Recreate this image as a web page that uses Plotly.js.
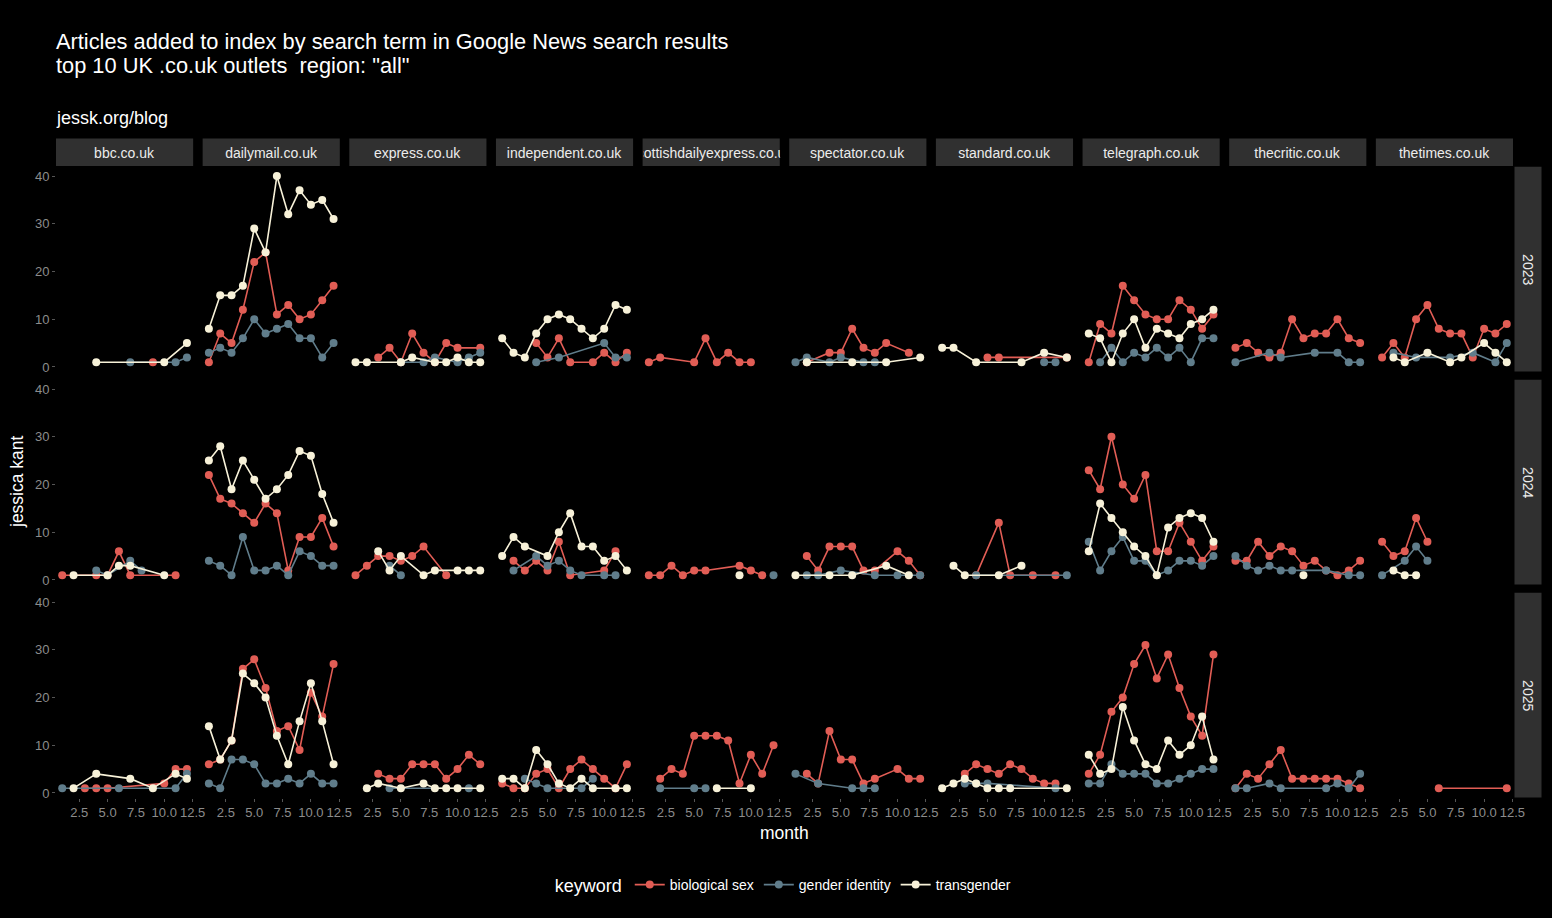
<!DOCTYPE html>
<html><head><meta charset="utf-8">
<script src="https://cdn.plot.ly/plotly-3.0.1.min.js"></script>
<style>html,body{margin:0;padding:0;background:#000;}#chart{width:1552px;height:918px;}</style>
</head><body><div id="chart"></div>
<script>
const months=[1,2,3,4,5,6,7,8,9,10,11,12];
const outlets=["bbc.co.uk","dailymail.co.uk","express.co.uk","independent.co.uk","scottishdailyexpress.co.uk","spectator.co.uk","standard.co.uk","telegraph.co.uk","thecritic.co.uk","thetimes.co.uk"];
const years=["2023","2024","2025"];
const keywords=["biological sex","gender identity","transgender"];
const xTickVals=[2.5,5,7.5,10,12.5];
const xTickText=["2.5","5.0","7.5","10.0","12.5"];
const yTickVals=[0,10,20,30,40];
const yTickText=["0","10","20","30","40"];
const n=null;

// rows: 2023, 2024, 2025 ; columns: months 1..12
const bbc_bio=[[n,n,n,n,n,n,n,n,1,n,n,n],[1,n,n,1,1,6,1,n,n,n,1,n],[n,n,1,1,1,n,n,n,n,2,5,5]];
const bbc_gen=[[n,n,n,n,n,n,1,n,n,n,1,2],[n,n,n,2,1,n,4,2,n,n,n,n],[1,n,n,n,n,1,n,n,n,n,1,4]];
const bbc_trans=[[n,n,n,1,n,n,n,n,n,1,n,5],[n,1,n,n,1,3,3,n,n,1,n,n],[n,1,n,4,n,n,3,n,1,n,4,3]];

const dailymail_bio=[[1,7,5,12,22,24,11,13,10,11,14,17],[22,17,16,14,12,16,14,2,9,9,13,7],[6,7,11,26,28,22,13,14,9,21,16,27]];
const dailymail_gen=[[3,4,3,6,10,7,8,9,6,6,2,5],[4,3,1,9,2,2,3,1,6,5,3,3],[2,1,7,7,6,2,2,3,2,4,2,2]];
const dailymail_trans=[[8,15,15,17,29,24,40,32,37,34,35,31],[25,28,19,25,21,17,19,22,27,26,18,12],[14,7,11,25,23,20,12,6,15,23,15,6]];

const express_bio=[[n,n,2,4,1,7,3,1,5,4,n,4],[1,3,5,5,4,5,7,n,1,n,n,n],[n,n,4,3,3,6,6,6,3,5,8,6]];
const express_gen=[[n,n,n,n,1,n,1,2,n,1,2,3],[n,n,n,3,1,n,n,n,n,n,n,n],[n,n,n,1,n,n,n,n,n,n,1,n]];
const express_trans=[[1,1,n,n,1,2,n,1,1,2,1,1],[n,n,6,2,5,n,1,2,n,2,2,2],[n,1,2,n,1,n,2,1,1,1,n,1]];

const independent_bio=[[n,n,n,5,2,6,1,n,1,3,1,3],[n,4,2,4,2,8,1,n,n,2,6,n],[2,1,1,4,5,1,5,7,5,3,1,6]];
const independent_gen=[[n,n,n,1,n,2,n,n,n,5,2,2],[n,2,n,5,3,4,2,1,n,1,1,n],[n,n,3,2,1,n,n,1,3,n,n,n]];
const independent_trans=[[6,3,2,7,10,11,10,8,6,8,13,12],[5,9,7,n,5,10,14,7,7,4,5,2],[3,3,1,9,6,2,1,3,1,n,1,1]];

const scottish_bio=[[1,2,n,n,1,6,1,3,1,1,n,n],[1,1,3,1,2,2,n,n,3,2,1,n],[n,3,5,4,12,12,12,11,2,8,4,10]];
const scottish_gen=[[n,n,n,n,n,n,n,n,n,n,n,n],[n,n,n,n,n,n,n,n,n,n,n,1],[n,1,n,n,1,1,n,n,n,n,n,n]];
const scottish_trans=[[n,n,n,n,n,n,n,n,n,n,n,n],[n,n,n,n,n,n,n,n,1,n,n,n],[n,n,n,n,n,n,1,n,n,1,n,n]];

const spectator_bio=[[n,1,n,3,3,8,4,3,5,n,3,n],[n,5,2,7,7,7,2,2,n,6,4,1],[n,4,2,13,7,7,2,3,n,5,3,3]];
const spectator_gen=[[1,2,n,1,2,n,1,1,n,n,n,n],[n,1,1,n,2,n,n,1,n,1,n,1],[4,n,2,n,n,1,1,1,n,n,n,n]];
const spectator_trans=[[n,1,n,n,n,1,n,n,1,n,n,2],[1,n,n,1,n,1,n,n,3,n,1,n],[n,n,n,n,n,n,n,n,n,n,n,n]];

const standard_bio=[[n,n,n,n,2,2,n,n,n,n,n,2],[n,n,n,1,n,12,1,n,1,n,1,n],[n,n,4,6,5,4,6,5,3,2,2,n]];
const standard_gen=[[n,n,n,n,n,n,n,n,n,1,1,n],[n,n,n,1,n,n,n,n,n,n,n,1],[n,n,2,2,2,n,n,n,n,n,1,n]];
const standard_trans=[[4,4,n,1,n,n,n,1,n,3,n,2],[n,3,1,n,n,1,n,3,n,n,n,n],[1,2,3,2,1,1,1,n,n,n,n,1]];

const telegraph_bio=[[1,9,7,17,14,11,10,10,14,12,8,11],[23,19,30,20,17,22,6,6,12,8,4,7],[4,8,17,20,27,31,24,29,22,16,12,29]];
const telegraph_gen=[[n,1,4,1,3,2,4,2,4,1,6,6],[8,2,6,9,4,4,1,2,4,4,3,5],[2,2,6,4,4,4,2,2,3,4,5,5]];
const telegraph_trans=[[7,6,1,7,10,4,8,7,6,9,10,12],[6,16,13,10,7,5,1,11,13,14,13,8],[8,4,5,18,11,6,5,11,8,10,16,7]];

const thecritic_bio=[[4,5,3,2,3,10,6,7,7,10,6,5],[4,4,8,5,7,6,3,4,2,1,2,4],[1,4,3,6,9,3,3,3,3,3,2,1]];
const thecritic_gen=[[1,n,n,3,2,n,n,3,n,3,1,1],[5,3,2,3,2,2,n,n,2,n,1,1],[1,1,n,2,1,n,n,n,1,2,1,4]];
const thecritic_trans=[[n,n,n,n,n,n,n,n,n,n,n,n],[n,n,n,n,n,n,1,n,n,n,n,n],[n,n,n,n,n,n,n,n,n,n,n,n]];

const thetimes_bio=[[2,5,2,10,13,8,7,7,2,8,7,9],[8,5,6,13,8,n,n,n,n,n,n,n],[n,n,n,n,n,1,n,n,n,n,n,1]];
const thetimes_gen=[[n,3,n,2,n,n,2,n,3,n,1,5],[1,n,4,7,4,n,n,n,n,n,n,n],[n,n,n,n,n,n,n,n,n,n,n,n]];
const thetimes_trans=[[n,2,1,n,3,n,1,2,n,5,3,1],[n,2,1,1,n,n,n,n,n,n,n,n],[n,n,n,n,n,n,n,n,n,n,n,n]];

const seriesByOutlet=[
  [bbc_bio,bbc_gen,bbc_trans],
  [dailymail_bio,dailymail_gen,dailymail_trans],
  [express_bio,express_gen,express_trans],
  [independent_bio,independent_gen,independent_trans],
  [scottish_bio,scottish_gen,scottish_trans],
  [spectator_bio,spectator_gen,spectator_trans],
  [standard_bio,standard_gen,standard_trans],
  [telegraph_bio,telegraph_gen,telegraph_trans],
  [thecritic_bio,thecritic_gen,thecritic_trans],
  [thetimes_bio,thetimes_gen,thetimes_trans]
];

const W=1552,H=918;
const colors=["#E15D55","#607D8B","#F7F1D8"];
const FONT="Liberation Sans, Arial, sans-serif";
const panelLeft0=56, panelStep=146.65, panelW=137.15;
const rowTop=[166.7,379.7,592.7], rowH=204.8;
const px=v=>v/W, py=v=>1-v/H;

const traces=[];
const layout={
  width:W,height:H,
  margin:{l:0,r:0,t:0,b:0},
  paper_bgcolor:"#000000",
  plot_bgcolor:"#000000",
  font:{family:FONT,color:"#ffffff",size:14},
  showlegend:true,
  legend:{orientation:"h",x:0.5053,xanchor:"center",y:py(886),yanchor:"middle",
    font:{family:FONT,size:14,color:"#ffffff"},bgcolor:"rgba(0,0,0,0)",
    title:{text:"keyword",side:"left",font:{family:FONT,size:18,color:"#ffffff"}},
    itemwidth:30,tracegroupgap:0},
  shapes:[],annotations:[]
};

for(let r=0;r<3;r++){
  for(let c=0;c<10;c++){
    const k=r*10+c;
    const id=k===0?"":String(k+1);
    const L=panelLeft0+c*panelStep;
    layout["xaxis"+id]={
      domain:[px(L),px(L+panelW)],anchor:"y"+id,range:[0.45,12.55],
      showgrid:false,zeroline:false,showline:false,
      tickvals:xTickVals,ticktext:xTickText,tickangle:0,
      showticklabels:r===2,ticks:r===2?"outside":"",ticklen:3,tickcolor:"#555555",
      tickfont:{family:FONT,size:13,color:"#8c8c8c"}
    };
    layout["yaxis"+id]={
      domain:[py(rowTop[r]+rowH),py(rowTop[r])],anchor:"x"+id,range:[-0.95,41.95],
      showgrid:false,zeroline:false,showline:false,
      tickvals:yTickVals,ticktext:yTickText,
      showticklabels:c===0,ticks:c===0?"outside":"",ticklen:3,tickcolor:"#555555",
      tickfont:{family:FONT,size:13,color:"#8c8c8c"}
    };
    for(let j=0;j<3;j++){
      traces.push({
        type:"scatter",mode:"lines+markers",x:months,y:seriesByOutlet[c][j][r],
        connectgaps:true,name:keywords[j],legendgroup:keywords[j],showlegend:k===0,
        line:{color:colors[j],width:1.6},marker:{color:colors[j],size:8},
        xaxis:"x"+id,yaxis:"y"+id,hoverinfo:"skip"
      });
    }
  }
}

// top strips
for(let c=0;c<10;c++){
  const L=panelLeft0+c*panelStep;
  layout.shapes.push({type:"rect",xref:"paper",yref:"paper",x0:px(L),x1:px(L+panelW),y0:py(166),y1:py(138.5),fillcolor:"#303030",line:{width:0},layer:"below"});
  layout.annotations.push({xref:"paper",yref:"paper",x:px(L+panelW/2),y:py(152.5),xanchor:"center",yanchor:"middle",
    text:outlets[c],showarrow:false,width:panelW,align:"center",font:{family:FONT,size:14,color:"#ececec"}});
}
// right strips
for(let r=0;r<3;r++){
  layout.shapes.push({type:"rect",xref:"paper",yref:"paper",x0:px(1514.5),x1:px(1541.5),y0:py(rowTop[r]+rowH),y1:py(rowTop[r]),fillcolor:"#303030",line:{width:0},layer:"below"});
  layout.annotations.push({xref:"paper",yref:"paper",x:px(1528),y:py(rowTop[r]+rowH/2),xanchor:"center",yanchor:"middle",
    text:years[r],textangle:90,showarrow:false,font:{family:FONT,size:14,color:"#ececec"}});
}
layout.annotations.push({xref:"paper",yref:"paper",x:px(54),y:py(41.5),xanchor:"left",yanchor:"middle",text:"Articles added to index by search term in Google News search results",showarrow:false,font:{family:FONT,size:21.8,color:"#ffffff"}});
layout.annotations.push({xref:"paper",yref:"paper",x:px(54),y:py(65.5),xanchor:"left",yanchor:"middle",text:'top 10 UK .co.uk outlets  region: "all"',showarrow:false,font:{family:FONT,size:21.8,color:"#ffffff"}});
layout.annotations.push({xref:"paper",yref:"paper",x:px(54),y:py(118),xanchor:"left",yanchor:"middle",text:"jessk.org/blog",showarrow:false,font:{family:FONT,size:18,color:"#ffffff"}});
layout.annotations.push({xref:"paper",yref:"paper",x:px(784.5),y:py(833),xanchor:"center",yanchor:"middle",text:"month",showarrow:false,font:{family:FONT,size:17.5,color:"#ffffff"}});
layout.annotations.push({xref:"paper",yref:"paper",x:px(17),y:py(482),xanchor:"center",yanchor:"middle",text:"jessica kant",textangle:-90,showarrow:false,font:{family:FONT,size:17.5,color:"#ffffff"}});

Plotly.newPlot("chart",traces,layout,{displayModeBar:false,staticPlot:true});
</script></body></html>
